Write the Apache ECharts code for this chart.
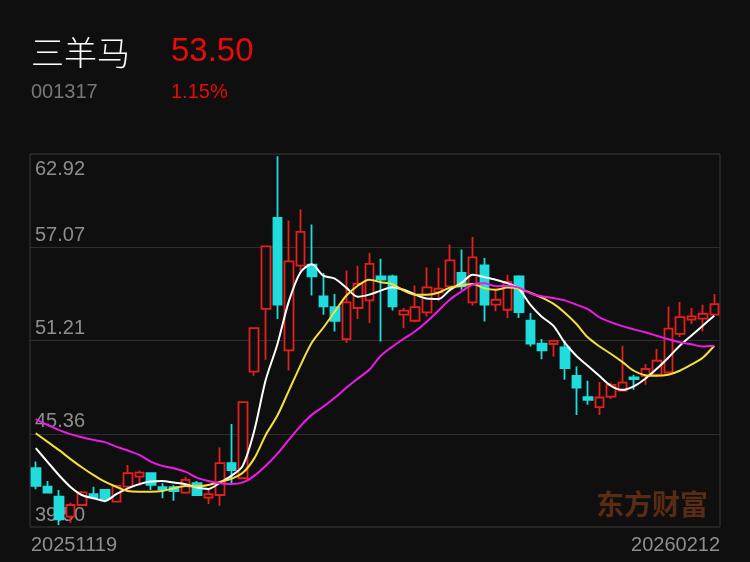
<!DOCTYPE html>
<html>
<head>
<meta charset="utf-8">
<title>三羊马 K线</title>
<script src="https://cdn.jsdelivr.net/npm/echarts@6/dist/echarts.min.js"></script>
<style>
  html, body { margin: 0; padding: 0; background: #0f0f0f; }
  #chart { width: 750px; height: 562px; }
</style>
</head>
<body>
<div id="chart"></div>
<script>
// 交易日
var dates = [
  '20251119','20251120','20251121','20251124','20251125','20251126','20251127','20251128',
  '20251201','20251202','20251203','20251204','20251205','20251208','20251209','20251210','20251211','20251212',
  '20251215','20251216','20251217','20251218','20251219','20251222','20251223','20251224','20251225','20251226',
  '20251229','20251230','20251231',
  '20260105','20260106','20260107','20260108','20260109','20260112','20260113','20260114','20260115','20260116',
  '20260119','20260120','20260121','20260122','20260123','20260126','20260127','20260128','20260129','20260130',
  '20260202','20260203','20260204','20260205','20260206','20260209','20260210','20260211','20260212'
];
var opens = [
  43.19, 42.03, 41.41, 40.15, 40.88, 41.56, 41.83, 41.09, 42.03, 42.66,
  42.88, 42.00, 42.00, 41.66, 42.25, 41.34, 41.51, 43.51, 42.56, 49.26,
  53.19, 58.91, 50.59, 55.91, 55.97, 53.98, 53.31, 51.30, 53.25, 53.73,
  55.24, 55.24, 52.83, 52.45, 52.97, 54.23, 54.61, 55.45, 53.60, 55.93,
  53.46, 53.14, 55.24, 52.45, 51.01, 50.99, 50.77, 48.99, 47.66, 47.03,
  47.69, 48.07, 48.89, 48.99, 49.06, 49.20, 51.63, 52.52, 52.58, 52.83
];
var closes = [
  42.08, 41.66, 39.98, 40.88, 41.68, 41.37, 41.26, 42.08, 42.88, 42.92,
  42.14, 41.87, 41.76, 42.46, 41.51, 41.56, 43.51, 43.08, 47.34, 51.99,
  57.12, 53.46, 56.18, 58.03, 55.24, 53.35, 52.45, 53.60, 54.76, 56.02,
  55.03, 53.35, 53.08, 53.31, 54.55, 54.46, 56.24, 54.61, 56.43, 53.46,
  53.77, 54.89, 53.00, 51.01, 50.59, 51.19, 49.48, 48.26, 47.49, 47.63,
  48.43, 48.57, 48.79, 49.42, 49.94, 51.95, 52.68, 52.72, 52.89, 53.50
];
var lows = [
  41.87, 41.60, 39.63, 39.77, 40.82, 41.31, 41.05, 41.05, 41.95, 42.08,
  41.83, 41.31, 41.15, 41.58, 41.50, 40.95, 40.84, 42.25, 42.50, 48.99,
  50.00, 52.56, 49.33, 55.45, 54.04, 52.83, 51.78, 51.05, 52.56, 52.31,
  51.15, 53.10, 51.99, 52.35, 52.72, 53.67, 54.29, 54.40, 53.40, 52.41,
  53.04, 52.62, 52.62, 50.84, 50.04, 50.21, 48.74, 46.54, 47.17, 46.54,
  47.53, 48.00, 48.11, 48.43, 48.95, 49.12, 51.43, 52.24, 51.78, 52.83
];
var highs = [
  43.61, 42.39, 41.83, 41.03, 41.76, 42.03, 41.85, 42.10, 43.40, 43.04,
  42.92, 42.25, 42.14, 42.66, 42.39, 41.83, 44.49, 45.96, 47.34, 52.00,
  57.12, 62.78, 58.74, 59.43, 58.49, 55.45, 54.13, 55.61, 55.91, 56.71,
  56.35, 55.34, 53.25, 54.67, 55.80, 55.77, 57.23, 56.92, 57.71, 56.39,
  54.40, 55.34, 55.30, 52.94, 51.30, 51.26, 51.19, 49.58, 48.68, 48.60,
  48.57, 50.88, 49.06, 49.73, 50.67, 53.35, 53.63, 53.25, 53.46, 54.13
];
// 均线
var ma5 = [
  44.45, 43.61, 42.77, 42.03, 41.51, 41.31, 41.14, 41.56, 41.93, 42.19,
  42.35, 42.39, 42.29, 42.19, 41.98, 41.89, 42.27, 42.71, 43.34, 45.54,
  48.74, 50.94, 53.65, 55.47, 56.00, 55.28, 55.09, 54.53, 53.96, 54.09,
  54.34, 54.56, 54.40, 54.09, 53.84, 53.81, 54.37, 54.81, 55.34, 55.19,
  55.03, 54.81, 54.46, 53.46, 52.70, 52.14, 51.07, 50.25, 49.62, 48.99,
  48.37, 48.11, 48.33, 48.81, 49.43, 50.13, 50.88, 51.51, 52.14, 52.77
];
var ma10 = [
  45.39, 44.86, 44.34, 43.78, 43.25, 42.77, 42.35, 42.03, 41.76, 41.72,
  41.72, 41.76, 41.93, 42.08, 42.05, 42.14, 42.33, 42.52, 42.90, 43.81,
  45.28, 46.48, 48.05, 49.62, 51.07, 52.01, 53.02, 54.02, 54.65, 55.03,
  54.87, 54.75, 54.34, 54.09, 54.09, 54.21, 54.53, 54.65, 54.75, 54.50,
  54.40, 54.53, 54.46, 54.21, 53.90, 53.52, 52.96, 52.26, 51.41, 50.85,
  50.38, 49.87, 49.31, 49.03, 48.99, 49.06, 49.31, 49.69, 50.13, 50.88
];
var ma20 = [
  46.27, 45.91, 45.60, 45.33, 45.14, 44.97, 44.83, 44.55, 44.30, 44.03,
  43.61, 43.34, 43.19, 42.98, 42.60, 42.39, 42.24, 42.20, 42.30, 42.71,
  43.34, 44.09, 44.97, 45.82, 46.54, 47.05, 47.61, 48.24, 48.81, 49.37,
  50.25, 50.82, 51.32, 51.79, 52.39, 53.08, 53.77, 54.28, 54.72, 54.80,
  54.62, 54.65, 54.53, 54.18, 53.99, 53.88, 53.73, 53.46, 53.18, 52.67,
  52.36, 52.11, 51.91, 51.73, 51.51, 51.29, 51.10, 50.97, 50.84, 50.88
];
// 纵轴刻度
var yTicks = [39.50, 45.355, 51.21, 57.065, 62.92];
var yTickLabels = ['39.50', '45.36', '51.21', '57.07', '62.92'];

var numFont = '"Liberation Sans", Arial, sans-serif';
var cjkFont = '"Noto Sans CJK SC", sans-serif';
var upColor = '#e3201e';
var downColor = '#20dcdc';

var chart = echarts.init(document.getElementById('chart'));

var kData = dates.map(function (d, i) {
  return [opens[i], closes[i], lows[i], highs[i]];
});

// 首尾两条与边框重合, 只留文字
var lineMarks = yTicks.map(function (v, i) {
  var last = i === yTicks.length - 1;
  return {
    yAxis: v,
    lineStyle: { color: (i === 0 || last) ? 'rgba(0,0,0,0)' : '#2f2f2f' },
    label: {
      position: last ? 'insideStartBottom' : 'insideStartTop',
      distance: last ? [5, 5] : [5, 2],
      formatter: yTickLabels[i]
    }
  };
});

var option = {
  backgroundColor: '#0f0f0f',
  animation: false,
  graphic: [
    { type: 'text', x: 31, y: 52, style: { text: '三羊马', fill: '#ffffff', fontSize: 33, fontWeight: 300, fontFamily: cjkFont, verticalAlign: 'middle', textVerticalAlign: 'middle' } },
    { type: 'text', x: 171, y: 52, style: { text: '53.50', fill: '#ea0a0a', fontSize: 33, fontFamily: numFont, verticalAlign: 'middle', textVerticalAlign: 'middle' } },
    { type: 'text', x: 31, y: 92, style: { text: '001317', fill: '#777777', fontSize: 20, fontFamily: numFont, verticalAlign: 'middle', textVerticalAlign: 'middle' } },
    { type: 'text', x: 171, y: 92, style: { text: '1.15%', fill: '#ea0a0a', fontSize: 20, fontFamily: numFont, verticalAlign: 'middle', textVerticalAlign: 'middle' } },
    { type: 'text', x: 596, y: 504, z: 0, style: { text: '东方财富', fill: '#5a2c13', fontSize: 28, fontWeight: 'bold', fontFamily: cjkFont, verticalAlign: 'middle', textVerticalAlign: 'middle' } }
  ],
  grid: {
    left: 30, right: 30, top: 154, bottom: 35,
    show: true,
    borderColor: '#3a3a3a',
    borderWidth: 1,
    backgroundColor: 'transparent'
  },
  xAxis: [{
    type: 'category',
    data: dates,
    boundaryGap: true,
    axisLine: { show: false },
    axisTick: { show: false },
    axisLabel: { show: false },
    splitLine: { show: false }
  }, {
    // 只用来放首尾日期
    type: 'category',
    data: dates,
    boundaryGap: false,
    position: 'bottom',
    axisLine: { show: false },
    axisTick: { show: false },
    splitLine: { show: false },
    axisLabel: {
      interval: function (i) { return i === 0 || i === dates.length - 1; },
      alignMinLabel: 'left',
      alignMaxLabel: 'right',
      color: '#8e8e8e',
      fontSize: 20,
      fontFamily: numFont,
      margin: 8,
      padding: [0, 0, 0, 1]
    }
  }],
  yAxis: {
    type: 'value',
    min: yTicks[0],
    max: yTicks[yTicks.length - 1],
    axisLine: { show: false },
    axisTick: { show: false },
    axisLabel: { show: false },
    splitLine: { show: false }
  },
  series: [{
    type: 'candlestick',
    data: kData,
    barWidth: 9,
    itemStyle: {
      color: '#0f0f0f',
      color0: downColor,
      borderColor: upColor,
      borderColor0: downColor,
      borderWidth: 1.8
    },
    markLine: {
      silent: true,
      z: 1,
      symbol: ['none', 'none'],
      animation: false,
      lineStyle: { color: '#2f2f2f', width: 1, type: 'solid' },
      label: {
        color: '#8e8e8e',
        fontSize: 20,
        fontFamily: numFont
      },
      data: lineMarks
    }
  }, {
    name: 'MA5',
    type: 'line',
    data: ma5,
    showSymbol: false,
    smooth: 0.3,
    lineStyle: { color: '#ffffff', width: 2 }
  }, {
    name: 'MA10',
    type: 'line',
    data: ma10,
    showSymbol: false,
    smooth: 0.3,
    lineStyle: { color: '#f4e03c', width: 2 }
  }, {
    name: 'MA20',
    type: 'line',
    data: ma20,
    showSymbol: false,
    smooth: 0.3,
    lineStyle: { color: '#f01ae8', width: 2 }
  }]
};

chart.setOption(option);
</script>
</body>
</html>
